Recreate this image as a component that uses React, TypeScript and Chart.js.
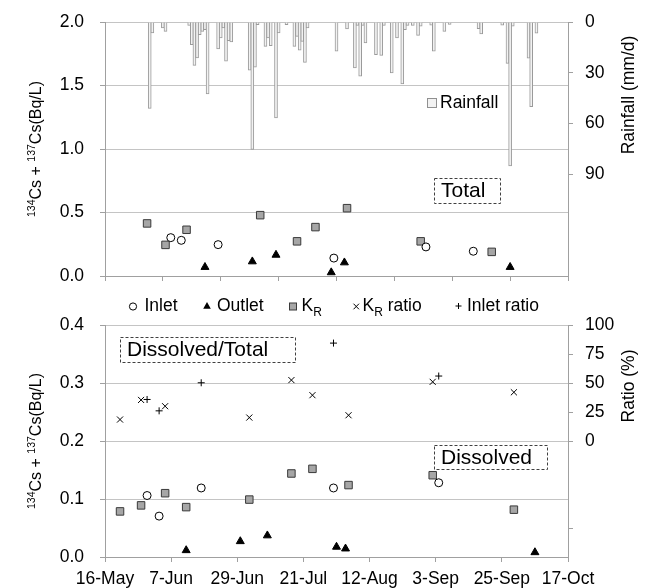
import React, { useEffect, useRef } from 'react';
import { Chart, registerables } from 'chart.js';

Chart.register(...registerables);

const FONT = '"Liberation Sans", Arial, Helvetica, sans-serif';
const AXIS = '#a0a0a0';
const GRID = '#c4c4c4';
const TXT = '#000000';

// ---------- data ----------
const xTickLabels = ['16-May', '7-Jun', '29-Jun', '21-Jul', '12-Aug', '3-Sep', '25-Sep', '17-Oct'];

// Daily rainfall (mm/d), dates as MM-DD
const rainDates = [
  '05-22', '05-23', '05-27', '05-28', '06-06', '06-07', '06-08', '06-09', '06-10', '06-11',
  '06-12', '06-13', '06-17', '06-18', '06-19', '06-20', '06-21', '06-22', '06-29', '06-30',
  '07-01', '07-02', '07-05', '07-06', '07-07', '07-09', '07-10', '07-13', '07-16', '07-17',
  '07-18', '07-19', '07-20', '07-21', '08-01', '08-05', '08-08', '08-09', '08-10', '08-11',
  '08-12', '08-16', '08-18', '08-19', '08-22', '08-24', '08-26', '08-27', '08-28', '08-30',
  '09-01', '09-02', '09-06', '09-07', '09-11', '09-13', '09-24', '09-25', '10-03', '10-05',
  '10-06', '10-07', '10-13', '10-14', '10-16',
];
const rainValues = [
  51, 6.5, 3.5, 5.5, 2, 13.4, 25.6, 21.2, 7.5, 5.5,
  4.5, 42.5, 15.9, 9.4, 3.5, 23.2, 11, 11.8, 28.5, 75.3,
  26.7, 1.6, 14.4, 9.4, 14, 56.6, 6.5, 1.6, 14.4, 8.5,
  16.7, 11.4, 23.8, 3.5, 17.3, 4.1, 27.1, 2, 32, 2,
  12.4, 19.3, 19.7, 2, 30, 9.4, 36.6, 4.5, 2, 2,
  7.9, 2.5, 1.8, 17.3, 5.5, 1.5, 3.9, 7.1, 1.8, 24.4,
  85, 2.4, 21.4, 50, 6.6,
];

// Total 134Cs + 137Cs (Bq/L)
const totalInletDates = ['05-30', '06-03', '06-17', '07-31', '09-04', '09-22'];
const totalInletValues = [0.302, 0.281, 0.247, 0.141, 0.229, 0.195];
const totalOutletDates = ['06-12', '06-30', '07-09', '07-30', '08-04', '10-06'];
const totalOutletValues = [0.07, 0.114, 0.166, 0.028, 0.106, 0.07];
const totalKrDates = ['05-21', '05-28', '06-05', '07-03', '07-17', '07-24', '08-05', '09-02', '09-29'];
const totalKrValues = [0.414, 0.245, 0.364, 0.479, 0.273, 0.385, 0.534, 0.273, 0.19];

// Dissolved 134Cs + 137Cs (Bq/L)
const dissInletDates = ['05-30', '06-03', '06-17', '07-31', '09-04'];
const dissInletValues = [0.106, 0.0705, 0.119, 0.119, 0.128];
const dissOutletDates = ['06-12', '06-30', '07-09', '08-01', '08-04', '10-06'];
const dissOutletValues = [0.0115, 0.027, 0.037, 0.0174, 0.0144, 0.008];
const dissKrDates = ['05-21', '05-28', '06-05', '06-12', '07-03', '07-17', '07-24', '08-05', '09-02', '09-29'];
const dissKrValues = [0.0786, 0.089, 0.11, 0.086, 0.099, 0.144, 0.152, 0.124, 0.141, 0.0816];

// Dissolved/Total ratio (%)
const krRatioDates = ['05-21', '05-28', '06-05', '07-03', '07-17', '07-24', '08-05', '09-02', '09-29'];
const krRatioValues = [18.5, 35.4, 30, 20.2, 52.5, 39.5, 22.2, 51, 42];
const inletRatioDates = ['05-30', '06-03', '06-17', '07-31', '09-04'];
const inletRatioValues = [35.8, 26, 50.2, 84.4, 56];

// ---------- helpers ----------
const dayOf = (md: string) => {
  const [m, d] = md.split('-').map(Number);
  return (Date.UTC(2000, m - 1, d) - Date.UTC(2000, 4, 16)) / 86400000;
};
const pts = (dates: string[], vals: number[]) => dates.map((d, i) => ({ x: dayOf(d), y: vals[i] }));

const tickFont = { family: FONT, size: 17.5 };

const inletStyle = { pointStyle: 'circle', pointRadius: 4, backgroundColor: '#ffffff', borderColor: '#000000', borderWidth: 1 };
const outletStyle = { pointStyle: 'triangle', pointRadius: 4.6, backgroundColor: '#000000', borderColor: '#000000', borderWidth: 1 };
const krStyle = { pointStyle: 'rect', pointRadius: 5.3, backgroundColor: '#a6a6a6', borderColor: '#3a3a3a', borderWidth: 1 };
const krRatioStyle = { pointStyle: 'crossRot', pointRadius: 4.3, backgroundColor: '#000000', borderColor: '#000000', borderWidth: 1 };
const inletRatioStyle = { pointStyle: 'cross', pointRadius: 3.5, backgroundColor: '#000000', borderColor: '#000000', borderWidth: 1 };

function drawLeftTitle(ctx: CanvasRenderingContext2D, cx: number, cy: number) {
  const parts = [
    { t: '134', s: true },
    { t: 'Cs + ', s: false },
    { t: '137', s: true },
    { t: 'Cs(Bq/L)', s: false },
  ];
  const main = `16px ${FONT}`;
  const sup = `10.5px ${FONT}`;
  ctx.save();
  ctx.translate(cx, cy);
  ctx.rotate(-Math.PI / 2);
  ctx.fillStyle = TXT;
  ctx.textBaseline = 'alphabetic';
  ctx.textAlign = 'left';
  let total = 0;
  const widths = parts.map((p) => {
    ctx.font = p.s ? sup : main;
    const w = ctx.measureText(p.t).width;
    total += w;
    return w;
  });
  let x = -total / 2;
  const base = 5.7;
  parts.forEach((p, i) => {
    ctx.font = p.s ? sup : main;
    ctx.fillText(p.t, x, p.s ? base - 6 : base);
    x += widths[i];
  });
  ctx.restore();
}

function drawRotated(ctx: CanvasRenderingContext2D, text: string, cx: number, cy: number, size: number) {
  ctx.save();
  ctx.translate(cx, cy);
  ctx.rotate(-Math.PI / 2);
  ctx.font = `${size}px ${FONT}`;
  ctx.fillStyle = TXT;
  ctx.textAlign = 'center';
  ctx.textBaseline = 'middle';
  ctx.fillText(text, 0, 0);
  ctx.restore();
}

function drawBox(ctx: CanvasRenderingContext2D, text: string, x: number, y: number, w: number, h: number) {
  ctx.save();
  ctx.strokeStyle = '#404040';
  ctx.lineWidth = 1;
  ctx.setLineDash([3, 2]);
  ctx.strokeRect(x + 0.5, y + 0.5, w, h);
  ctx.setLineDash([]);
  ctx.font = `21px ${FONT}`;
  ctx.fillStyle = TXT;
  ctx.textAlign = 'left';
  ctx.textBaseline = 'middle';
  ctx.fillText(text, x + 7, y + h / 2 + 1);
  ctx.restore();
}

function drawLegend(ctx: CanvasRenderingContext2D, y: number) {
  ctx.save();
  const f = `17.5px ${FONT}`;
  const fs = `12px ${FONT}`;
  ctx.fillStyle = TXT;
  ctx.textBaseline = 'middle';
  ctx.textAlign = 'left';
  // Inlet circle
  ctx.beginPath();
  ctx.arc(133, y, 3.6, 0, Math.PI * 2);
  ctx.fillStyle = '#fff';
  ctx.fill();
  ctx.strokeStyle = '#000';
  ctx.lineWidth = 1;
  ctx.stroke();
  ctx.fillStyle = TXT;
  ctx.font = f;
  ctx.fillText('Inlet', 144.5, y);
  // Outlet triangle
  ctx.beginPath();
  const r = 4.4;
  ctx.moveTo(207, y - r);
  ctx.lineTo(207 + r * 0.866, y + r / 2);
  ctx.lineTo(207 - r * 0.866, y + r / 2);
  ctx.closePath();
  ctx.fillStyle = '#000';
  ctx.fill();
  ctx.font = f;
  ctx.fillText('Outlet', 217, y);
  // KR square
  ctx.fillStyle = '#a6a6a6';
  ctx.fillRect(289.5, y - 3.5, 7, 7);
  ctx.strokeStyle = '#3a3a3a';
  ctx.strokeRect(289.5, y - 3.5, 7, 7);
  ctx.fillStyle = TXT;
  ctx.font = f;
  ctx.fillText('K', 301.5, y);
  let kw = ctx.measureText('K').width;
  ctx.font = fs;
  ctx.fillText('R', 301.5 + kw, y + 6);
  // KR ratio x
  ctx.strokeStyle = '#000';
  ctx.beginPath();
  ctx.moveTo(353.5, y - 2.8);
  ctx.lineTo(359, y + 2.8);
  ctx.moveTo(359, y - 2.8);
  ctx.lineTo(353.5, y + 2.8);
  ctx.stroke();
  const kx = 362.5;
  ctx.font = f;
  ctx.fillText('K', kx, y);
  kw = ctx.measureText('K').width;
  ctx.font = fs;
  ctx.fillText('R', kx + kw, y + 6);
  const rw = ctx.measureText('R').width;
  ctx.font = f;
  ctx.fillText(' ratio', kx + kw + rw, y);
  // Inlet ratio +
  ctx.beginPath();
  ctx.moveTo(455.5, y - 0.5);
  ctx.lineTo(461.5, y - 0.5);
  ctx.moveTo(458.5, y - 3.5);
  ctx.lineTo(458.5, y + 2.5);
  ctx.stroke();
  ctx.fillText('Inlet ratio', 467, y);
  ctx.restore();
}

const xScale = (showLabels: boolean, height: number) => ({
  type: 'linear',
  position: 'bottom',
  min: 0,
  max: 154,
  afterFit: (s: any) => {
    s.height = height;
    s.paddingLeft = 0;
    s.paddingRight = 0;
  },
  ticks: {
    stepSize: 22,
    autoSkip: false,
    maxRotation: 0,
    minRotation: 0,
    padding: 7,
    color: TXT,
    font: tickFont,
    callback: (v: number) => (showLabels ? xTickLabels[Math.round(v / 22)] ?? '' : ''),
  },
  grid: { drawOnChartArea: false, color: AXIS, tickColor: AXIS, tickLength: 5, lineWidth: 1 },
  border: { display: true, color: AXIS, width: 1 },
});

const leftScale = (min: number, max: number, step: number) => ({
  type: 'linear',
  position: 'left',
  min,
  max,
  afterFit: (s: any) => {
    s.width = 105;
    s.paddingTop = 0;
    s.paddingBottom = 0;
  },
  ticks: {
    stepSize: step,
    padding: 16,
    color: TXT,
    font: tickFont,
    callback: (v: number) => v.toFixed(1),
  },
  grid: { drawOnChartArea: true, color: GRID, tickColor: AXIS, tickLength: 5, lineWidth: 1 },
  border: { display: true, color: AXIS, width: 1 },
});

export default function App() {
  const topRef = useRef<HTMLCanvasElement | null>(null);
  const botRef = useRef<HTMLCanvasElement | null>(null);

  useEffect(() => {
    if (!topRef.current || !botRef.current) return;

    const topOverlay = {
      id: 'topOverlay',
      afterDraw(chart: any) {
        const ctx = chart.ctx as CanvasRenderingContext2D;
        drawLeftTitle(ctx, 35, 149);
        drawRotated(ctx, 'Rainfall (mm/d)', 629, 95, 17.5);
        drawBox(ctx, 'Total', 434, 178, 66, 25);
        ctx.save();
        ctx.fillStyle = '#f2f2f2';
        ctx.fillRect(427.5, 98.5, 9, 9);
        ctx.strokeStyle = '#909090';
        ctx.lineWidth = 1;
        ctx.strokeRect(427.5, 98.5, 9, 9);
        ctx.font = `17.5px ${FONT}`;
        ctx.fillStyle = TXT;
        ctx.textBaseline = 'middle';
        ctx.fillText('Rainfall', 440, 103.5);
        ctx.restore();
      },
    };

    const botOverlay = {
      id: 'botOverlay',
      afterDraw(chart: any) {
        const ctx = chart.ctx as CanvasRenderingContext2D;
        drawLegend(ctx, 16.5);
        drawLeftTitle(ctx, 35, 151);
        drawRotated(ctx, 'Ratio (%)', 629, 96, 17.5);
        drawBox(ctx, 'Dissolved/Total', 120, 47, 175, 25);
        drawBox(ctx, 'Dissolved', 434, 155, 113, 24);
      },
    };

    const common = {
      responsive: false,
      maintainAspectRatio: false,
      animation: false,
      devicePixelRatio: 1,
      events: [],
    };

    const top = new Chart(topRef.current, {
      type: 'scatter',
      data: {
        datasets: [
          {
            type: 'bar',
            label: 'Rainfall',
            data: pts(rainDates, rainValues),
            yAxisID: 'yRain',
            backgroundColor: '#f2f2f2',
            borderColor: '#9a9a9a',
            borderWidth: 1,
            barThickness: 3,
            order: 10,
          } as any,
          { label: 'Inlet', data: pts(totalInletDates, totalInletValues), yAxisID: 'y', ...inletStyle, order: 1 } as any,
          { label: 'Outlet', data: pts(totalOutletDates, totalOutletValues), yAxisID: 'y', ...outletStyle, order: 1 } as any,
          { label: 'KR', data: pts(totalKrDates, totalKrValues), yAxisID: 'y', ...krStyle, order: 1 } as any,
        ],
      },
      options: {
        ...common,
        layout: { padding: { top: 22, left: 0, right: 0, bottom: 0 } },
        plugins: { legend: { display: false }, tooltip: { enabled: false } },
        scales: {
          x: xScale(false, 14),
          y: leftScale(0, 2, 0.5),
          yRain: {
            type: 'linear',
            position: 'right',
            reverse: true,
            min: 0,
            max: 150,
            afterFit: (s: any) => {
              s.width = 81;
              s.paddingTop = 0;
              s.paddingBottom = 0;
            },
            ticks: {
              stepSize: 30,
              padding: 12,
              color: TXT,
              font: tickFont,
              callback: (v: number) => (v <= 90 ? String(v) : ''),
            },
            grid: {
              drawOnChartArea: false,
              tickLength: 5,
              color: AXIS,
              tickColor: (c: any) => (c.tick && c.tick.value <= 90 ? AXIS : 'rgba(0,0,0,0)'),
            },
            border: { display: true, color: AXIS, width: 1 },
          },
        },
      } as any,
      plugins: [topOverlay],
    });

    const bot = new Chart(botRef.current, {
      type: 'scatter',
      data: {
        datasets: [
          { label: 'Inlet', data: pts(dissInletDates, dissInletValues), yAxisID: 'y', ...inletStyle } as any,
          { label: 'Outlet', data: pts(dissOutletDates, dissOutletValues), yAxisID: 'y', ...outletStyle } as any,
          { label: 'KR', data: pts(dissKrDates, dissKrValues), yAxisID: 'y', ...krStyle } as any,
          { label: 'KR ratio', data: pts(krRatioDates, krRatioValues), yAxisID: 'yRatio', ...krRatioStyle } as any,
          { label: 'Inlet ratio', data: pts(inletRatioDates, inletRatioValues), yAxisID: 'yRatio', ...inletRatioStyle } as any,
        ],
      },
      options: {
        ...common,
        layout: { padding: { top: 35, left: 0, right: 0, bottom: 0 } },
        plugins: { legend: { display: false }, tooltip: { enabled: false } },
        scales: {
          x: xScale(true, 31),
          y: leftScale(0, 0.4, 0.1),
          yRatio: {
            type: 'linear',
            position: 'right',
            min: -100,
            max: 100,
            afterFit: (s: any) => {
              s.width = 81;
              s.paddingTop = 0;
              s.paddingBottom = 0;
            },
            ticks: {
              stepSize: 25,
              padding: 12,
              color: TXT,
              font: tickFont,
              callback: (v: number) => (v >= 0 ? String(v) : ''),
            },
            grid: {
              drawOnChartArea: false,
              tickLength: 5,
              color: AXIS,
              tickColor: (c: any) =>
                c.tick && (c.tick.value >= 0 || c.tick.value === -75) ? AXIS : 'rgba(0,0,0,0)',
            },
            border: { display: true, color: AXIS, width: 1 },
          },
        },
      } as any,
      plugins: [botOverlay],
    });

    return () => {
      top.destroy();
      bot.destroy();
    };
  }, []);

  return (
    <div style={{ position: 'absolute', left: 0, top: 0, width: 649, height: 588, background: '#ffffff' }}>
      <canvas
        ref={topRef}
        width={649}
        height={290}
        style={{ position: 'absolute', left: 0, top: 0, width: 649, height: 290 }}
      />
      <canvas
        ref={botRef}
        width={649}
        height={298}
        style={{ position: 'absolute', left: 0, top: 290, width: 649, height: 298 }}
      />
    </div>
  );
}
